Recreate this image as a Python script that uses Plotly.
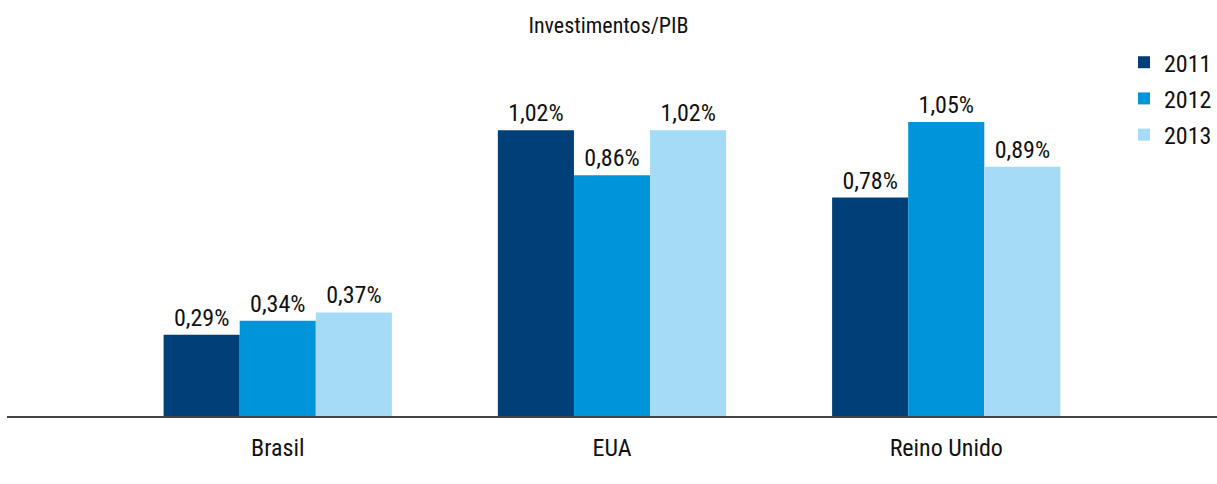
import plotly.graph_objects as go

# Investimentos/PIB por país (%)
paises = ["Brasil", "EUA", "Reino Unido"]
anos = ["2011", "2012", "2013"]
valores_2011 = [0.29, 1.02, 0.78]
valores_2012 = [0.34, 0.86, 1.05]
valores_2013 = [0.37, 1.02, 0.89]
cores = ["#003F78", "#0095DA", "#A5DBF6"]

FONTE = "Liberation Sans Narrow, Roboto Condensed, Arial Narrow, sans-serif"


def rotulo(v):
    return f"{v:.2f}".replace(".", ",") + "%"


fig = go.Figure()
for ano, valores, cor in zip(anos, [valores_2011, valores_2012, valores_2013], cores):
    fig.add_trace(go.Bar(
        name=ano,
        legendgroup=ano,
        x=paises,
        y=valores,
        marker=dict(color=cor, line=dict(width=0)),
        text=[rotulo(v) for v in valores],
        textposition="outside",
        textfont=dict(family=FONTE, size=24, color="#111111"),
        cliponaxis=False,
    ))

fig.update_layout(
    width=1217,
    height=484,
    margin=dict(l=7, r=0, t=50, b=68),
    paper_bgcolor="white",
    plot_bgcolor="white",
    barmode="group",
    bargap=0.317,
    bargroupgap=0,
    font=dict(family=FONTE, size=24, color="#111111"),
    title=dict(
        text="Investimentos/PIB",
        x=0.5, xref="container", xanchor="center",
        y=0.948, yref="container", yanchor="middle",
        font=dict(family=FONTE, size=22, color="#111111"),
    ),
    legend=dict(
        x=1.0, xanchor="right",
        y=1.027, yanchor="top",
        font=dict(family=FONTE, size=24, color="#111111"),
        tracegroupgap=2,
        itemsizing="constant",
        bgcolor="rgba(0,0,0,0)",
    ),
    xaxis=dict(
        range=[-0.81, 2.81],
        showline=True, linecolor="#444444", linewidth=2,
        showgrid=False, ticks="", zeroline=False,
        ticklabelstandoff=9,
        tickfont=dict(family=FONTE, size=24, color="#111111"),
    ),
    yaxis=dict(
        range=[0, 1.307],
        visible=False, showgrid=False, zeroline=False,
    ),
)

fig.write_html("out.html")
